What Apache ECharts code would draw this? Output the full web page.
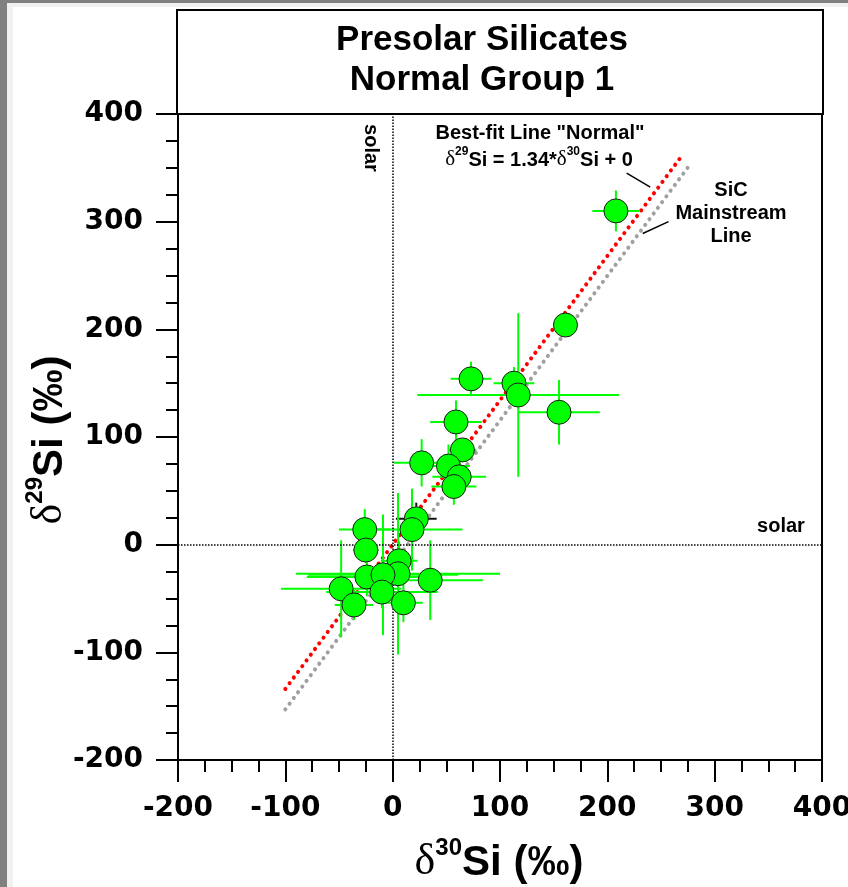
<!DOCTYPE html>
<html><head><meta charset="utf-8">
<script src="https://cdn.jsdelivr.net/npm/echarts@6/dist/echarts.min.js"></script>
<style>html,body{margin:0;padding:0;background:#fff}#c{width:848px;height:887px}</style>
</head><body><div id="c"></div>
<script>
// ---- data ----
const delta30 = [208, 161, 73, 113, 117, 155, 59, 65, 27, 52, 62, 57, 22, 18, -26, -25, 6, 5, -24, -9, -48, -10, 35, 10, -36];
const delta29 = [310, 204, 154, 150, 139, 123, 114, 88, 76, 73, 63, 54, 24, 14, 14, -5, -15, -27, -30, -28, -41, -44, -33, -54, -56];
const err30   = [22, 8, 19, 19, 94, 38, 24, 13, 26, 20, 25, 21, 19, 47, 24, 12, 17, 95, 56, 70, 56, 52, 49, 18, 18];
const err29   = [19, 8, 16, 15, 76, 30, 20, 10, 22, 20, 18, 17, 15, 38, 19, 12, 18, 75, 18, 56, 45, 15, 37, 18, 14];
const bestFitLine = [[-100, -134], [270, 362]];
const sicMainstreamLine = [[-100, -153], [277, 353]];
const bestFitLeader = [[218, 345], [240, 332]];
const sicLeader = [[233, 289], [257, 300]];
const solarRef = [0, 0];
const xRange = [-200, 400];
const yRange = [-200, 400];
const tickStep = 100;

// ---- styling ----
const blackBarPoints = [12];
const LBL = 'DejaVu Sans';
const chart = echarts.init(document.getElementById('c'), null, {renderer: 'canvas'});
const pts = delta30.map((x, i) => [x, delta29[i], err30[i], err29[i]]);

const axisCommon = {
  type: 'value', interval: tickStep,
  axisLine: {onZero: false, lineStyle: {color: '#000', width: 2}},
  axisTick: {length: 22, lineStyle: {color: '#000', width: 2}},
  minorTick: {show: true, splitNumber: 4, length: 12, lineStyle: {color: '#000', width: 2}},
  splitLine: {show: false}, minorSplitLine: {show: false},
  axisLabel: {color: '#000', fontSize: 28, fontWeight: 'bold', fontFamily: LBL, margin: 35}
};

const titleRich = {
  d: {fontFamily: 'Liberation Serif', fontSize: 44, lineHeight: 48, verticalAlign: 'bottom'},
  s: {fontFamily: 'Liberation Sans', fontWeight: 'bold', fontSize: 24, lineHeight: 30, verticalAlign: 'top'},
  b: {fontFamily: 'Liberation Sans', fontWeight: 'bold', fontSize: 42, lineHeight: 48, verticalAlign: 'bottom'}
};

const option = {
  animation: false,
  backgroundColor: '#fff',
  grid: {left: 178, right: 26, top: 114, bottom: 127, show: true, borderColor: '#000', borderWidth: 2,
         containLabel: false, outerBoundsMode: 'none'},
  xAxis: Object.assign({}, axisCommon, {min: xRange[0], max: xRange[1]}),
  yAxis: Object.assign({}, axisCommon, {min: yRange[0], max: yRange[1]}),
  series: [
    {type: 'line', data: sicMainstreamLine, symbol: 'none', z: 2,
     lineStyle: {color: '#a0a0a0', width: 4, type: [0.1, 7], cap: 'round'},
     markLine: {silent: true, symbol: 'none', label: {show: false},
       lineStyle: {color: '#000', width: 1.5, type: [1.5, 1.5]},
       data: [{xAxis: solarRef[0]}, {yAxis: solarRef[1]}]}},
    {type: 'line', data: bestFitLine, symbol: 'none', z: 3,
     lineStyle: {color: '#ff0000', width: 4, type: [0.1, 7], cap: 'round'}},
    {type: 'line', data: bestFitLeader, symbol: 'none', z: 3, lineStyle: {color: '#000', width: 1.5}},
    {type: 'line', data: sicLeader, symbol: 'none', z: 3, lineStyle: {color: '#000', width: 1.5}},
    {type: 'custom', z: 4, data: pts, encode: {x: 0, y: 1},
     renderItem: function (params, api) {
       const x = api.value(0), y = api.value(1), ex = api.value(2), ey = api.value(3);
       const l = api.coord([x - ex, y]), r = api.coord([x + ex, y]);
       const t = api.coord([x, y + ey]), b = api.coord([x, y - ey]);
       const col = blackBarPoints.indexOf(params.dataIndex) >= 0 ? '#111' : '#00ff00';
       return {type: 'group', children: [
         {type: 'line', shape: {x1: l[0], y1: l[1], x2: r[0], y2: r[1]}, style: {stroke: col, lineWidth: 2}},
         {type: 'line', shape: {x1: t[0], y1: t[1], x2: b[0], y2: b[1]}, style: {stroke: col, lineWidth: 2}}
       ]};
     }},
    {type: 'scatter', z: 5, data: pts.map(p => [p[0], p[1]]), symbol: 'circle', symbolSize: 24,
     itemStyle: {color: '#00ff00', borderColor: '#1a1a1a', borderWidth: 1, opacity: 1}}
  ],
  graphic: [
    {type: 'rect', z: 100, shape: {x: 0, y: 0, width: 848, height: 3}, style: {fill: '#808080'}},
    {type: 'rect', z: 100, shape: {x: 0, y: 0, width: 7, height: 887}, style: {fill: '#808080'}},
    {type: 'rect', z: 100, shape: {x: 7, y: 3, width: 841, height: 4}, style: {fill: '#f0f0f0'}},
    {type: 'rect', z: 100, shape: {x: 7, y: 3, width: 6, height: 884}, style: {fill: '#f0f0f0'}},
    {type: 'rect', z: 10, shape: {x: 177, y: 10, width: 646, height: 104}, style: {fill: '#fff', stroke: '#000', lineWidth: 2}},
    {type: 'text', z: 11, x: 482, y: 60, style: {text: 'Presolar Silicates\nNormal Group 1', align: 'center', verticalAlign: 'middle',
      font: 'bold 35px "Liberation Sans", Arial, sans-serif', lineHeight: 40, fill: '#000'}},
    {type: 'text', z: 11, x: 540, y: 133, style: {text: 'Best-fit Line "Normal"', align: 'center', verticalAlign: 'middle',
      font: 'bold 20px "Liberation Sans", Arial, sans-serif', fill: '#000'}},
    {type: 'text', z: 11, x: 539, y: 158, style: {text: '{d|δ}{s|29}{b|Si = 1.34*}{d|δ}{s|30}{b|Si + 0}', align: 'center', verticalAlign: 'middle',
      rich: {d: {fontFamily: 'Liberation Serif', fontSize: 21, lineHeight: 24, verticalAlign: 'bottom'},
             s: {fontFamily: 'Liberation Sans', fontWeight: 'bold', fontSize: 12, lineHeight: 16, verticalAlign: 'top'},
             b: {fontFamily: 'Liberation Sans', fontWeight: 'bold', fontSize: 20, lineHeight: 24, verticalAlign: 'bottom'}}}},
    {type: 'text', z: 11, x: 731, y: 213, style: {text: 'SiC\nMainstream\nLine', align: 'center', verticalAlign: 'middle',
      font: 'bold 20px "Liberation Sans", Arial, sans-serif', lineHeight: 23, fill: '#000'}},
    {type: 'text', z: 11, x: 371, y: 148, rotation: -Math.PI / 2, style: {text: 'solar', align: 'center', verticalAlign: 'middle',
      font: 'bold 20px "Liberation Sans", Arial, sans-serif', fill: '#000'}},
    {type: 'text', z: 11, x: 781, y: 526, style: {text: 'solar', align: 'center', verticalAlign: 'middle',
      font: 'bold 20px "Liberation Sans", Arial, sans-serif', fill: '#000'}},
    {type: 'text', z: 11, x: 499, y: 860, style: {text: '{d|δ}{s|30}{b|Si (‰)}', align: 'center', verticalAlign: 'middle', rich: titleRich}},
    {type: 'text', z: 11, x: 47, y: 440, rotation: Math.PI / 2, style: {text: '{d|δ}{s|29}{b|Si (‰)}', align: 'center', verticalAlign: 'middle', rich: titleRich}}
  ]
};
chart.setOption(option);
</script></body></html>
